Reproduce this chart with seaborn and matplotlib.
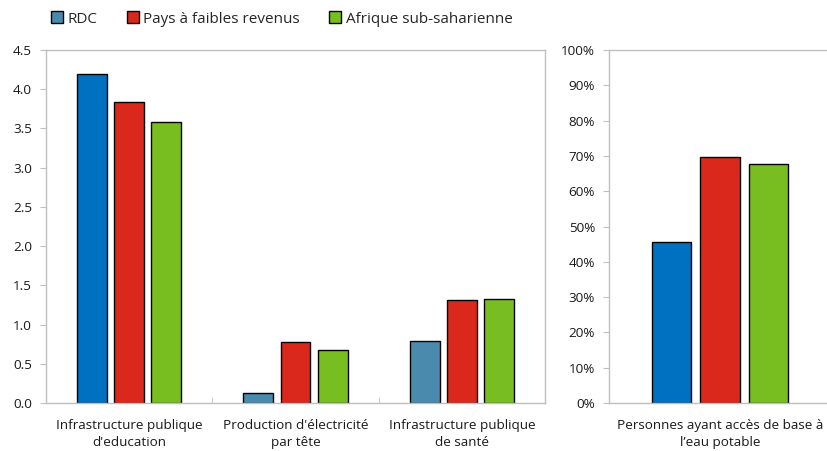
import numpy as np
import pandas as pd
import matplotlib.pyplot as plt
import matplotlib.patches as mpatches
import seaborn as sns

# Data
categories = ["Infrastructure publique\nd'education",
              "Production d'électricité\npar tête",
              "Infrastructure publique\nde santé"]
groups = ["RDC", "Pays à faibles revenus", "Afrique sub-saharienne"]
rdc = [4.20, 0.13, 0.79]
pays = [3.84, 0.78, 1.31]
afrique = [3.58, 0.68, 1.33]

water_label = ["Personnes ayant accès de base à\nl’eau potable"]
water_rdc = [0.456]
water_pays = [0.697]
water_afrique = [0.677]

colors = {"RDC": "#4A8BAD", "Pays à faibles revenus": "#DA291C",
          "Afrique sub-saharienne": "#78BE20"}
rdc_dark = "#0070C0"

sns.set_style("white")
plt.rcParams['font.family'] = ['Open Sans', 'DejaVu Sans']
plt.rcParams['font.size'] = 9.5

df = pd.DataFrame({
    "cat": categories * 3,
    "grp": [g for g in groups for _ in categories],
    "val": rdc + pays + afrique,
})
dw = pd.DataFrame({
    "cat": water_label * 3,
    "grp": groups,
    "val": water_rdc + water_pays + water_afrique,
})

fig = plt.figure(figsize=(8.27, 4.51), dpi=100)
ax1 = fig.add_axes([46/827, 48/451, 499/827, 353/451])
ax2 = fig.add_axes([609/827, 48/451, 222/827, 353/451])

sns.barplot(data=df, x="cat", y="val", hue="grp", palette=colors, ax=ax1,
            width=0.67, gap=0.2, edgecolor="black", linewidth=1,
            saturation=1, legend=False)
sns.barplot(data=dw, x="cat", y="val", hue="grp", palette=colors, ax=ax2,
            width=0.66, gap=0.2, edgecolor="black", linewidth=1,
            saturation=1, legend=False)

# RDC bars for education and water are drawn in a darker blue
ax1.containers[0][0].set_facecolor(rdc_dark)
ax2.containers[0][0].set_facecolor(rdc_dark)

ax1.set_ylim(0, 4.5)
ax1.set_yticks(np.arange(0, 4.51, 0.5))
ax1.set_yticklabels([f"{v:.1f}" for v in np.arange(0, 4.51, 0.5)])
ax1.set_xlim(-0.5, 2.5)
ax1.set_xticks([0.5, 1.5], minor=True)

ax2.set_ylim(0, 1.0)
ax2.set_yticks(np.arange(0, 1.01, 0.1))
ax2.set_yticklabels([f"{int(round(v*100))}%" for v in np.arange(0, 1.01, 0.1)])
ax2.set_xlim(-0.5, 0.5)

for ax in (ax1, ax2):
    ax.set_xlabel("")
    ax.set_ylabel("")
    for s in ax.spines.values():
        s.set_color("#BFBFBF")
        s.set_linewidth(1)
    ax.tick_params(axis="y", which="major", left=True, length=4, color="#BFBFBF",
                   labelsize=9.7, labelcolor="#1a1a1a", pad=6)
    ax.tick_params(axis="x", which="major", bottom=False, labelsize=9.7,
                   labelcolor="#1a1a1a", pad=8)
    ax.tick_params(axis="x", which="minor", bottom=True, direction="in",
                   length=4, color="#BFBFBF")
    for t in ax.get_xticklabels():
        t.set_linespacing(1.45)

handles = [mpatches.Patch(facecolor=colors[g], edgecolor="black", linewidth=1, label=g)
           for g in groups]
fig.legend(handles=handles, loc="upper left", bbox_to_anchor=(0.045, 1.005), ncol=3,
           frameon=False, fontsize=11, handlelength=0.8, handleheight=0.8,
           handletextpad=0.3, columnspacing=1.9)

fig.savefig("out.png", dpi=100)
